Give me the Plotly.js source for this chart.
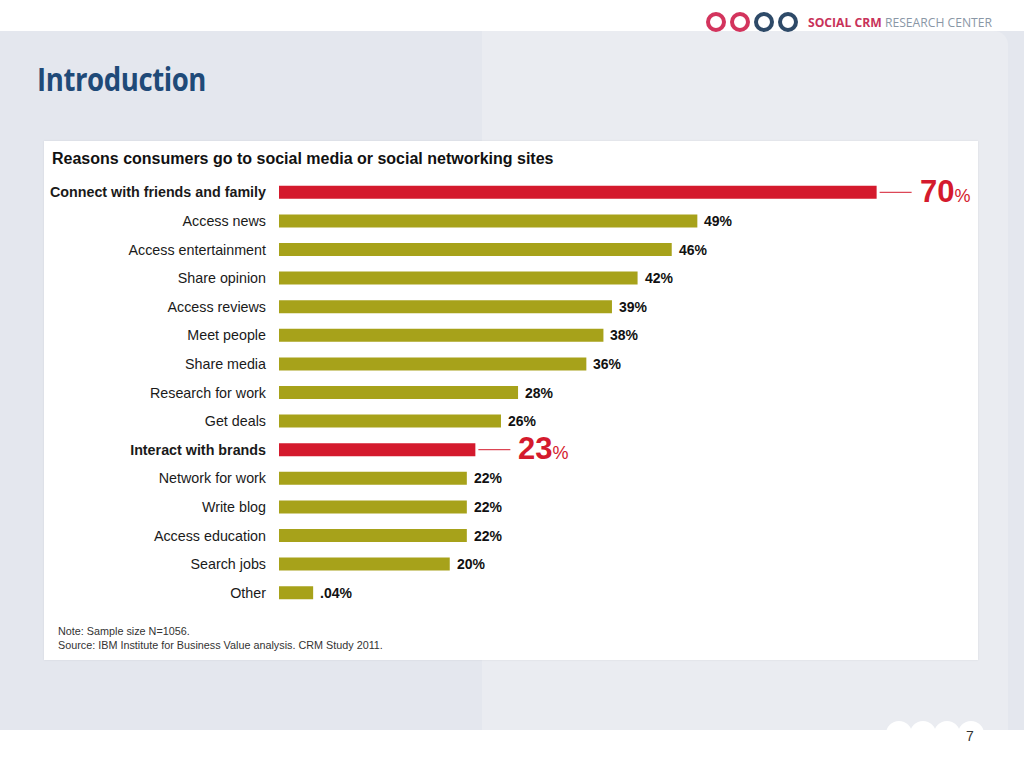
<!DOCTYPE html>
<html>
<head>
<meta charset="utf-8">
<script src="https://cdn.plot.ly/plotly-3.0.1.min.js"></script>
<style>
  html, body { margin:0; padding:0; width:1024px; height:768px; overflow:hidden; background:#ffffff; font-family:"Liberation Sans", Arial, sans-serif; }
  .abs { position:absolute; }
  #bandL { left:0; top:31px; width:1024px; height:699px; background:#e4e7ee; }
  #bandR { left:482px; top:31px; width:526px; height:699px; background:#eaecf1; border-top-right-radius:14px; }
  #card { left:44px; top:141px; width:934px; height:519px; background:#ffffff; box-shadow:0 0 2px rgba(0,0,0,0.08); }
  #chart { left:0; top:0; width:1024px; height:768px; }
  #intro { left:37px; top:56px; font-family:"Open Sans", sans-serif; font-weight:700; font-size:33px; color:#1f4a78; transform-origin:left top; white-space:nowrap; letter-spacing:-0.5px; }
  .logoC { width:20px; height:20px; border-radius:50%; box-sizing:border-box; border:4px solid; top:12px; }
  #logoText { left:808px; top:14px; font-family:"Open Sans", sans-serif; font-size:12px; white-space:nowrap; transform-origin:left top; }
  .bump { width:26px; height:26px; border-radius:50%; background:#ffffff; top:721px; }
  #pagenum { left:966px; top:728px; font-size:14px; color:#333; font-family:"Liberation Sans", Arial, sans-serif; }
</style>
</head>
<body>
<div id="bandL" class="abs"></div>
<div id="bandR" class="abs"></div>
<div id="card" class="abs"></div>
<div class="abs bump" style="left:886px"></div>
<div class="abs bump" style="left:910px"></div>
<div class="abs bump" style="left:934px"></div>
<div class="abs bump" style="left:958px"></div>
<div id="intro" class="abs">Introduction</div>
<div class="abs logoC" style="left:706px;border-color:#d3345d"></div>
<div class="abs logoC" style="left:730px;border-color:#d3345d"></div>
<div class="abs logoC" style="left:754px;border-color:#2e4a68"></div>
<div class="abs logoC" style="left:778px;border-color:#2e4a68"></div>
<div id="logoText" class="abs"><span style="color:#c8325a;font-weight:700">SOCIAL CRM</span> <span style="color:#8a97a6">RESEARCH CENTER</span></div>
<div id="pagenum" class="abs">7</div>
<div id="chart" class="abs"></div>
<script>
// ---- data ----
const categories = [
  "Connect with friends and family",
  "Access news",
  "Access entertainment",
  "Share opinion",
  "Access reviews",
  "Meet people",
  "Share media",
  "Research for work",
  "Get deals",
  "Interact with brands",
  "Network for work",
  "Write blog",
  "Access education",
  "Search jobs",
  "Other"
];
const values = [70, 49, 46, 42, 39, 38, 36, 28, 26, 23, 22, 22, 22, 20, 4];
const valueLabels = ["70%", "49%", "46%", "42%", "39%", "38%", "36%", "28%", "26%", "23%", "22%", "22%", "22%", "20%", ".04%"];
const highlighted = ["Connect with friends and family", "Interact with brands"];
const chartTitle = "Reasons consumers go to social media or social networking sites";
const noteLines = [
  "Note: Sample size N=1056.",
  "Source: IBM Institute for Business Value analysis. CRM Study 2011."
];

// ---- styling ----
const RED = "#d41a2d";
const OLIVE = "#a7a21a";
const W = 1024, H = 768;
const M = { l: 279, r: 61.6, t: 177.7, b: 160.7 };
const PW = W - M.l - M.r, PH = H - M.t - M.b;
const px2x = px => (px - M.l) / PW;
const px2y = py => 1 - (py - M.t) / PH;

const isHi = c => highlighted.indexOf(c) >= 0;
const colors = categories.map(c => isHi(c) ? RED : OLIVE);
const ticktext = categories.map(c => isHi(c) ? "<b>" + c + "</b>" : c);

const annotations = [];
const shapes = [];
categories.forEach((c, i) => {
  if (isHi(c)) {
    const num = valueLabels[i].replace("%", "");
    annotations.push({
      x: values[i], y: c, xref: "x", yref: "y", xanchor: "left", yanchor: "middle",
      xshift: 41, yshift: 1, showarrow: false,
      text: "<b>" + num + "</b><span style=\"font-size:18px\">%</span>",
      font: { family: "Liberation Sans, Arial, sans-serif", size: 31, color: RED }
    });
    shapes.push({
      type: "line", xref: "x", yref: "y", xsizemode: "pixel", xanchor: values[i],
      x0: 3, x1: 35, y0: c, y1: c, line: { color: RED, width: 1 }
    });
  } else {
    annotations.push({
      x: values[i], y: c, xref: "x", yref: "y", xanchor: "left", yanchor: "middle",
      xshift: 5, yshift: 0, showarrow: false,
      text: "<b>" + valueLabels[i] + "</b>",
      font: { family: "Liberation Sans, Arial, sans-serif", size: 14, color: "#111111" }
    });
  }
});

annotations.push({
  xref: "paper", yref: "paper", x: px2x(50), y: px2y(158), xanchor: "left", yanchor: "middle",
  showarrow: false, text: "<b>" + chartTitle + "</b>",
  font: { family: "Liberation Sans, Arial, sans-serif", size: 16, color: "#111111" }
});
noteLines.forEach((t, k) => {
  annotations.push({
    xref: "paper", yref: "paper", x: px2x(56), y: px2y(631 + 14 * k), xanchor: "left", yanchor: "middle",
    showarrow: false, text: t,
    font: { family: "Liberation Sans, Arial, sans-serif", size: 10.8, color: "#333333" }
  });
});

const trace = {
  type: "bar", orientation: "h",
  x: values, y: categories,
  marker: { color: colors },
  hoverinfo: "skip"
};

const layout = {
  width: W, height: H,
  margin: { l: M.l, r: M.r, t: M.t, b: M.b, pad: 0 },
  paper_bgcolor: "rgba(0,0,0,0)", plot_bgcolor: "rgba(0,0,0,0)",
  showlegend: false,
  bargap: 0.546,
  xaxis: { range: [0, 80], visible: false, fixedrange: true },
  yaxis: {
    type: "category", range: [14.5, -0.5], automargin: false,
    tickmode: "array", tickvals: categories, ticktext: ticktext,
    ticks: "", showline: false, showgrid: false, zeroline: false,
    ticklabelstandoff: 12,
    tickfont: { family: "Liberation Sans, Arial, sans-serif", size: 14.3, color: "#1a1a1a" }
  },
  annotations: annotations,
  shapes: shapes
};

Plotly.newPlot("chart", [trace], layout, { staticPlot: true, displayModeBar: false });

// fit slide chrome text widths
function fitWidth(id, target) {
  const el = document.getElementById(id);
  const w = el.getBoundingClientRect().width;
  if (w > 0) el.style.transform = "scaleX(" + (target / w) + ")";
}
fitWidth("intro", 169);
fitWidth("logoText", 184);
</script>
</body>
</html>
